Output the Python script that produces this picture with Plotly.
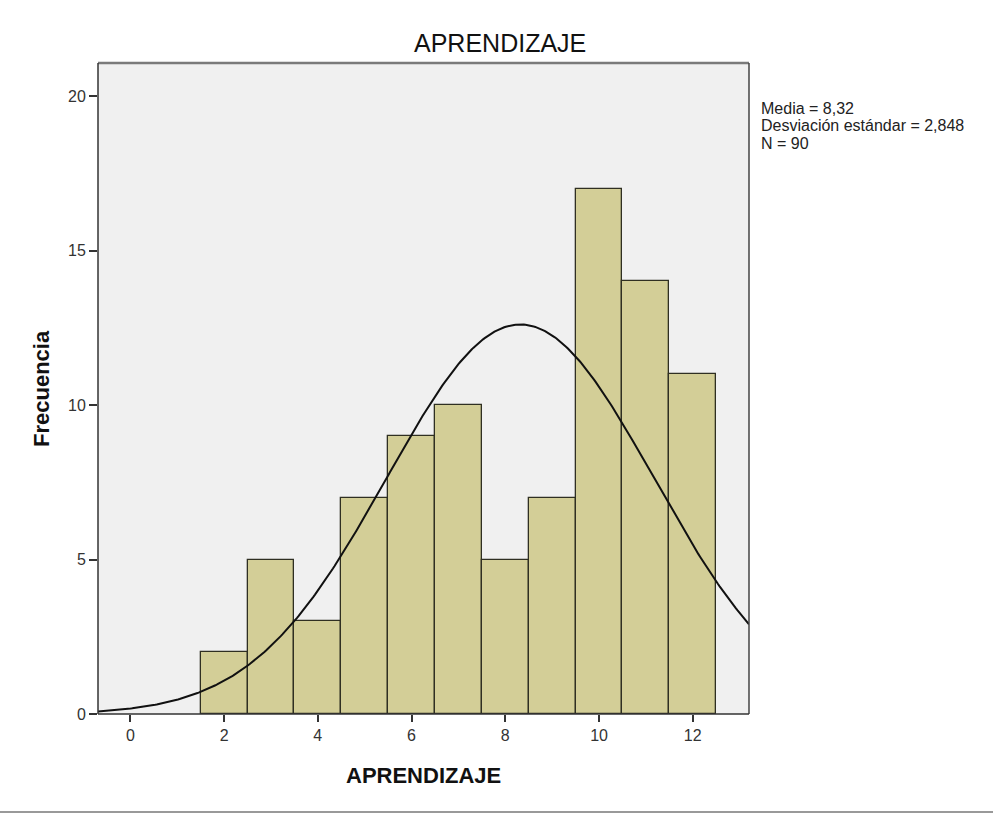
import numpy as np
import plotly.graph_objects as go

# ---- data ----
bin_centers = [2, 3, 4, 5, 6, 7, 8, 9, 10, 11, 12]
frequencies = [2, 5, 3, 7, 9, 10, 5, 7, 17, 14, 11]
MEAN = 8.32
SD = 2.848
N = 90
BIN_WIDTH = 1
stat_lines = ["Media = 8,32", "Desviación estándar = 2,848", "N = 90"]
x_ticks = [0, 2, 4, 6, 8, 10, 12]
y_ticks = [0, 5, 10, 15, 20]
title_text = "APRENDIZAJE"
x_title = "APRENDIZAJE"
y_title = "Frecuencia"

X_RANGE = [-0.69, 13.2]
Y_RANGE = [0, 21.07]

FONT = "Liberation Sans, Arial, sans-serif"

# fitted normal curve (from the displayed mean, sd and N)
xs = np.linspace(X_RANGE[0], X_RANGE[1], 400)
ys = N * BIN_WIDTH / (SD * np.sqrt(2 * np.pi)) * np.exp(-0.5 * ((xs - MEAN) / SD) ** 2)

fig = go.Figure()
fig.add_trace(go.Bar(
    x=bin_centers, y=frequencies, width=BIN_WIDTH,
    marker=dict(color="#D3CE97", line=dict(color="#2f2f22", width=1.3)),
    hoverinfo="x+y", showlegend=False,
))
fig.add_trace(go.Scatter(
    x=xs, y=ys, mode="lines", line=dict(color="#111111", width=2),
    hoverinfo="skip", showlegend=False, cliponaxis=True,
))

fig.update_layout(
    width=993, height=814,
    margin=dict(l=98, r=244, t=63, b=100, pad=0),
    paper_bgcolor="white", plot_bgcolor="#F0F0F0",
    font=dict(family=FONT, color="#222222", size=16),
    bargap=0,
    xaxis=dict(
        range=X_RANGE, tickvals=x_ticks, ticks="outside", ticklen=7, tickwidth=1.5,
        tickcolor="#333333", showgrid=False, zeroline=False, showline=False,
        tickfont=dict(size=16, color="#333333"),
    ),
    yaxis=dict(
        range=Y_RANGE, tickvals=y_ticks, ticks="outside", ticklen=8, tickwidth=1.5,
        tickcolor="#333333", showgrid=False, zeroline=False, showline=False,
        tickfont=dict(size=16, color="#333333"),
    ),
)

# plot frame
fig.add_shape(type="line", xref="paper", yref="paper", x0=0, x1=1, y0=1, y1=1,
              line=dict(color="#7a7a7a", width=2.5))
fig.add_shape(type="line", xref="paper", yref="paper", x0=0, x1=0, y0=0, y1=1,
              line=dict(color="#333333", width=1.5))
fig.add_shape(type="line", xref="paper", yref="paper", x0=1, x1=1, y0=0, y1=1,
              line=dict(color="#444444", width=1.5))
fig.add_shape(type="line", xref="paper", yref="paper", x0=0, x1=1, y0=0, y1=0,
              line=dict(color="#333333", width=1.5))

PW = 651.0
def px_x(x):
    return (x - 98) / PW
def px_y(y):
    return 1 - (y - 63) / PW

# bottom separator line of the image
fig.add_shape(type="line", xref="paper", yref="paper", x0=px_x(0), x1=px_x(993),
              y0=px_y(812), y1=px_y(812),
              line=dict(color="#999999", width=2))

fig.add_annotation(text=title_text, xref="paper", yref="paper",
                   x=px_x(500), y=px_y(43), xanchor="center", yanchor="middle",
                   showarrow=False, font=dict(size=25, color="#111111", family=FONT))
fig.add_annotation(text="<b>" + x_title + "</b>", xref="paper", yref="paper",
                   x=px_x(423), y=px_y(775), xanchor="center", yanchor="middle",
                   showarrow=False, font=dict(size=22, color="#111111", family=FONT))
fig.add_annotation(text="<b>" + y_title + "</b>", xref="paper", yref="paper",
                   x=px_x(41), y=px_y(389), xanchor="center", yanchor="middle",
                   textangle=-90, showarrow=False,
                   font=dict(size=22, color="#111111", family=FONT))

for i, line in enumerate(stat_lines):
    fig.add_annotation(text=line, xref="paper", yref="paper",
                       x=px_x(759), y=px_y(108 + 17.5 * i), xanchor="left", yanchor="middle",
                       showarrow=False, font=dict(size=16, color="#222222", family=FONT))

fig.write_html(
    "out.html",
    config={"displayModeBar": False},
    post_script="document.body.style.margin='0';document.body.style.overflow='hidden';",
)
